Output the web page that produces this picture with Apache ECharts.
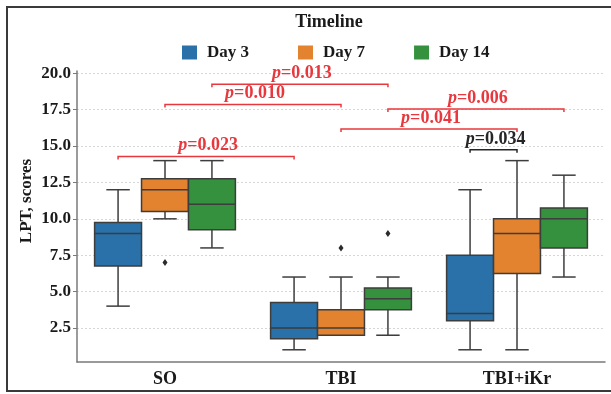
<!DOCTYPE html>
<html>
<head>
<meta charset="utf-8">
<script src="https://cdn.jsdelivr.net/npm/echarts@6/dist/echarts.min.js"></script>
<style>
html, body { margin: 0; padding: 0; background: #fff; }
#chart { width: 611px; height: 394px; }
</style>
</head>
<body>
<div id="chart"></div>
<script>
var categories = ['SO', 'TBI', 'TBI+iKr'];
var days = ['Day 3', 'Day 7', 'Day 14'];
var yTicks = [2.5, 5, 7.5, 10, 12.5, 15, 17.5, 20];

// min, Q1, median, Q3, max for each category
var day3Box = [[4, 6.75, 9, 9.75, 12], [1, 1.75, 2.5, 4.25, 6], [1, 3, 3.5, 7.5, 12]];
var day7Box = [[10, 10.5, 12, 12.75, 14], [2, 2, 2.5, 3.75, 6], [1, 6.25, 9, 10, 14]];
var day14Box = [[8, 9.25, 11, 12.75, 14], [2, 3.75, 4.5, 5.25, 6], [6, 8, 10, 10.75, 13]];

// [category, value, day]
var outliers = [[0, 7, 1], [1, 8, 1], [1, 9, 2]];

// p-value brackets: [category, day] from -> to, and bracket height
var pLabels = ['0.023', '0.010', '0.013', '0.006', '0.041', '0.034'];
var pFrom = [[0, 0], [0, 1], [0, 2], [1, 2], [1, 1], [2, 0]];
var pTo = [[1, 0], [1, 1], [1, 2], [2, 2], [2, 1], [2, 1]];
var pLevel = [14.28, 17.86, 19.25, 17.55, 16.18, 14.74];

var colors = ['#2a71a9', '#e3832f', '#35913d'];
var font = 'Liberation Serif';
var textColor = '#1a1a1a';
var edgeColor = '#3d3d3d';

function hueOffset(api, day) {
    var w = api.size([1, 0])[0] * 0.8 / 3;
    return (day - 1) * w;
}

function boxItem(day) {
    return function (params, api) {
        var cat = api.value(0);
        var w = api.size([1, 0])[0] * 0.8 / 3;
        var cx = api.coord([cat, 0])[0] + hueOffset(api, day);
        var yMin = api.coord([cat, api.value(1)])[1];
        var yQ1 = api.coord([cat, api.value(2)])[1];
        var yMed = api.coord([cat, api.value(3)])[1];
        var yQ3 = api.coord([cat, api.value(4)])[1];
        var yMax = api.coord([cat, api.value(5)])[1];
        var edge = {stroke: edgeColor, lineWidth: 1.5};
        var cap = w / 4;
        return {
            type: 'group',
            children: [
                {type: 'line', shape: {x1: cx, y1: yMax, x2: cx, y2: yQ3}, style: edge},
                {type: 'line', shape: {x1: cx, y1: yQ1, x2: cx, y2: yMin}, style: edge},
                {type: 'line', shape: {x1: cx - cap, y1: yMax, x2: cx + cap, y2: yMax}, style: edge},
                {type: 'line', shape: {x1: cx - cap, y1: yMin, x2: cx + cap, y2: yMin}, style: edge},
                {type: 'rect', shape: {x: cx - w / 2, y: yQ3, width: w, height: yQ1 - yQ3},
                    style: {fill: colors[day], stroke: edgeColor, lineWidth: 1.5}},
                {type: 'line', shape: {x1: cx - w / 2, y1: yMed, x2: cx + w / 2, y2: yMed}, style: edge}
            ]
        };
    };
}

function outlierItem(params, api) {
    var p = api.coord([api.value(0), api.value(1)]);
    var x = p[0] + hueOffset(api, api.value(2));
    var y = p[1];
    return {
        type: 'polygon',
        shape: {points: [[x, y - 3.5], [x + 2.5, y], [x, y + 3.5], [x - 2.5, y]]},
        style: {fill: '#2b2b2b'}
    };
}

function bracketItem(params, api) {
    var i = params.dataIndex;
    var y = api.coord([0, api.value(1)])[1];
    var x1 = api.coord([pFrom[i][0], 0])[0] + hueOffset(api, pFrom[i][1]);
    var x2 = api.coord([pTo[i][0], 0])[0] + hueOffset(api, pTo[i][1]);
    // comparisons inside one group are black, between groups red
    var color = pFrom[i][0] === pTo[i][0] ? '#262626' : '#e8383d';
    return {
        type: 'group',
        children: [
            {type: 'polyline', shape: {points: [[x1, y + 3], [x1, y], [x2, y], [x2, y + 3]]},
                style: {stroke: color, lineWidth: 1.5, fill: null}},
            {type: 'text', x: (x1 + x2) / 2 + 2, y: y - 11,
                style: {
                    text: '{i|p}{n|=' + pLabels[i] + '}',
                    align: 'center', verticalAlign: 'middle',
                    fill: color,
                    rich: {
                        i: {fontFamily: font, fontSize: 18, fontWeight: 'bold', fontStyle: 'italic', fill: color},
                        n: {fontFamily: font, fontSize: 18, fontWeight: 'bold', fill: color}
                    }
                }}
        ]
    };
}

var boxes = [day3Box, day7Box, day14Box];
var series = [];
for (var d = 0; d < 3; d++) {
    series.push({
        name: days[d],
        type: 'custom',
        itemStyle: {color: colors[d]},
        renderItem: boxItem(d),
        encode: {x: 0, y: [1, 2, 3, 4, 5]},
        data: boxes[d].map(function (b, i) { return [i].concat(b); })
    });
}
series.push({
    name: 'outliers',
    type: 'custom',
    renderItem: outlierItem,
    encode: {x: 0, y: 1},
    data: outliers
});
series.push({
    name: 'brackets',
    type: 'custom',
    renderItem: bracketItem,
    encode: {x: 0, y: 1},
    data: pLevel.map(function (v, i) { return [pFrom[i][0], v]; }),
    z: 5
});

var chart = echarts.init(document.getElementById('chart'));
chart.setOption({
    animation: false,
    grid: {left: 77, right: 6, top: 71, bottom: 32, containLabel: false, outerBoundsMode: 'none'},
    legend: {
        data: days,
        left: 177,
        top: 39,
        icon: 'rect',
        itemWidth: 15,
        itemHeight: 14,
        itemGap: 49,
        textStyle: {fontFamily: font, fontSize: 17, fontWeight: 'bold', color: textColor, padding: [0, 0, 0, 5]}
    },
    graphic: [
        {type: 'rect', shape: {x: 7, y: 7, width: 620, height: 384},
            style: {fill: null, stroke: '#3a3a3a', lineWidth: 2}, silent: true},
        {type: 'text', x: 329, y: 22,
            style: {text: 'Timeline', align: 'center', verticalAlign: 'middle',
                font: 'bold 18px "Liberation Serif"', fill: textColor}},
        {type: 'text', x: 27, y: 201, rotation: Math.PI / 2,
            style: {text: 'LPT, scores', align: 'center', verticalAlign: 'middle',
                font: 'bold 17px "Liberation Serif"', fill: textColor}}
    ],
    xAxis: {
        type: 'category',
        data: categories,
        axisLine: {lineStyle: {color: '#7a7a7a', width: 1.5}},
        axisTick: {alignWithLabel: true, inside: true, length: 3, lineStyle: {color: '#7a7a7a'}},
        axisLabel: {margin: 8, fontFamily: font, fontSize: 18, fontWeight: 'bold', color: textColor},
        splitLine: {show: false}
    },
    yAxis: {
        type: 'value',
        min: 0.16,
        max: 20.16,
        axisLine: {show: true, lineStyle: {color: '#7a7a7a', width: 1.5}},
        axisTick: {show: true, customValues: yTicks, length: 4, lineStyle: {color: '#7a7a7a'}},
        axisLabel: {
            customValues: yTicks,
            margin: 6,
            fontFamily: font, fontSize: 17, fontWeight: 'bold', color: textColor,
            formatter: function (v) { return v.toFixed(1); }
        },
        splitLine: {show: true, lineStyle: {color: '#d6d6d6', type: [2, 2], width: 1}}
    },
    series: series
});
</script>
</body>
</html>
